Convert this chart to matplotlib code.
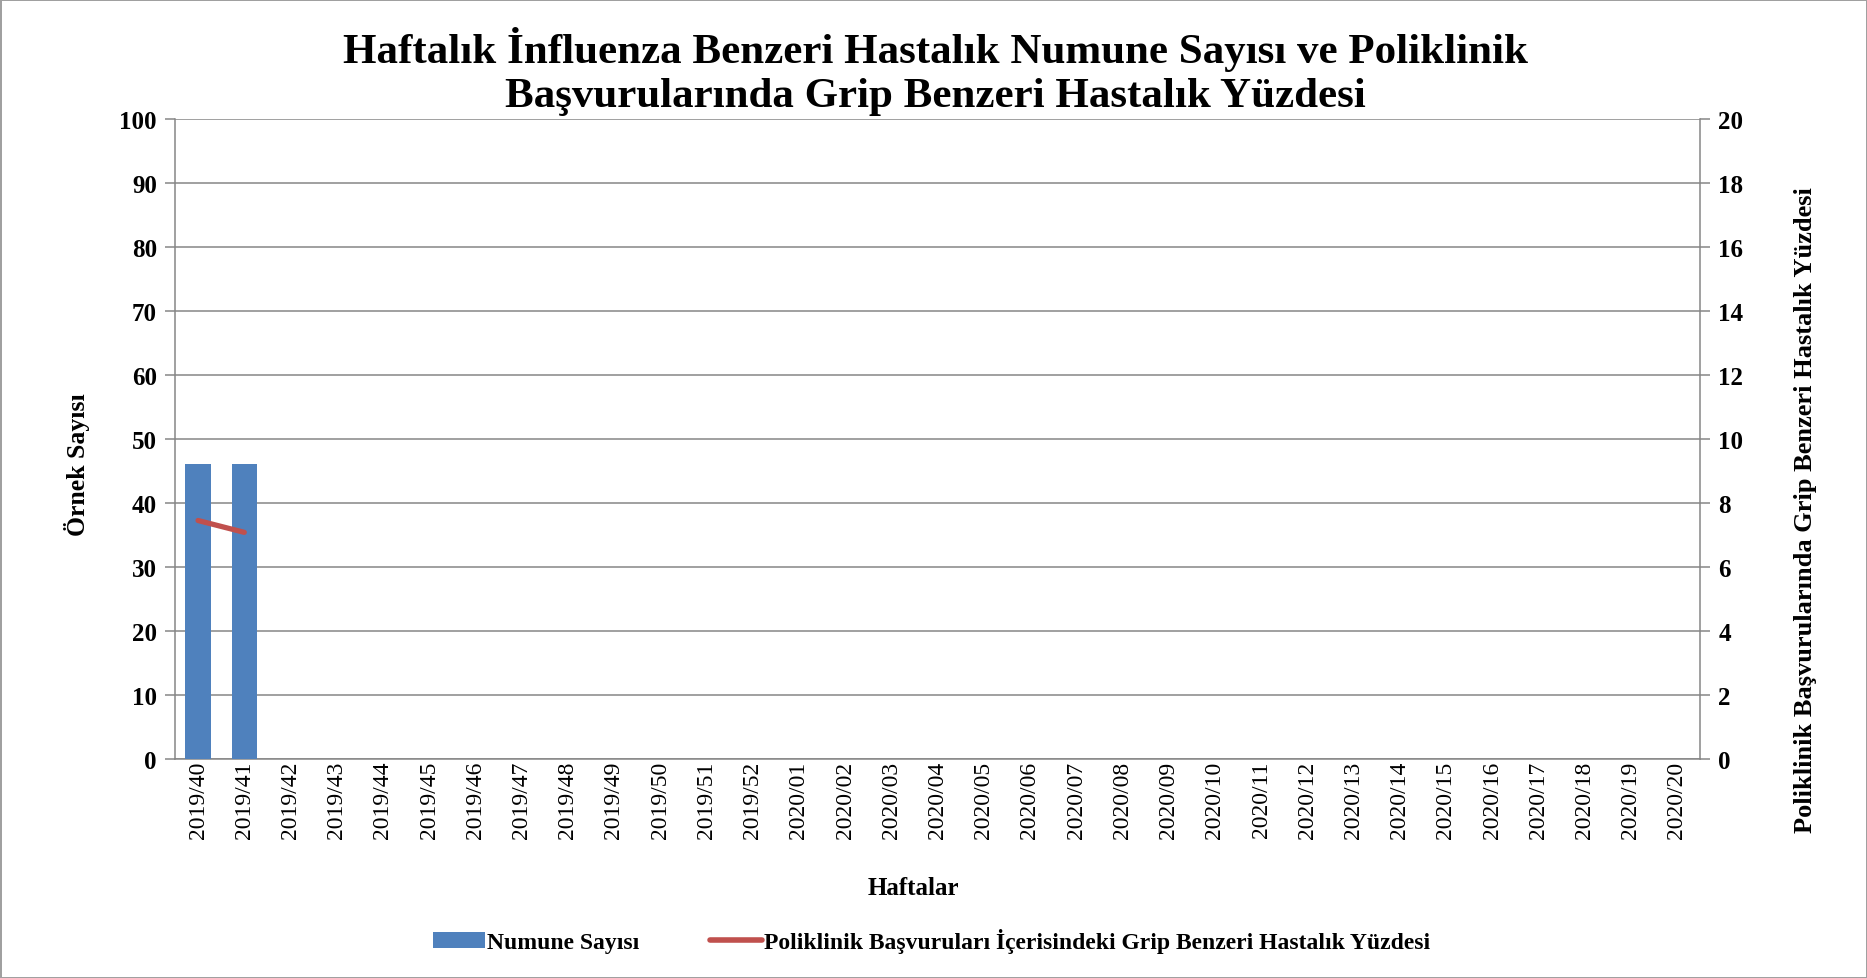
import numpy as np
import matplotlib
matplotlib.use('Agg')
import matplotlib.pyplot as plt
from matplotlib.patches import Patch
from matplotlib.lines import Line2D

plt.rcParams['font.family'] = ['Liberation Serif', 'DejaVu Serif']

# Data
weeks = ['2019/%02d' % w for w in range(40, 53)] + ['2020/%02d' % w for w in range(1, 21)]
sample_counts = [46, 46]          # Numune Sayısı (only first weeks reported)
ili_percent = [7.45, 7.08]        # Grip Benzeri Hastalık Yüzdesi

title = 'Haftalık İnfluenza Benzeri Hastalık Numune Sayısı ve Poliklinik\nBaşvurularında Grip Benzeri Hastalık Yüzdesi'
left_label = 'Örnek Sayısı'
right_label = 'Poliklinik Başvurularında Grip Benzeri Hastalık Yüzdesi'
x_label = 'Haftalar'
bar_name = 'Numune Sayısı'
line_name = 'Poliklinik Başvuruları İçerisindeki Grip Benzeri Hastalık Yüzdesi'

blue = '#4F81BD'
red = '#C0504D'
gray = '#868686'

fig = plt.figure(figsize=(18.67, 9.79), dpi=100)
fig.patch.set_edgecolor('#a0a0a0')
fig.patch.set_linewidth(2)

ax = fig.add_axes([0.0937, 0.2237, 0.8169, 0.6540])
x = np.arange(len(weeks))

ax.bar(x[:len(sample_counts)], sample_counts, width=0.55, color=blue, zorder=3)
ax.set_xlim(-0.5, len(weeks) - 0.5)
ax.set_ylim(0, 100)
ax.set_yticks(range(0, 101, 10))
ax.grid(axis='y', color=gray, linewidth=1.1, zorder=0)
ax.set_xticks(x)
ax.set_xticklabels(weeks, rotation=90, fontsize=17)
ax.tick_params(axis='x', length=0, pad=1)
ax.tick_params(axis='y', length=7, color=gray, width=1.1, labelsize=18, pad=6)
for lbl in ax.get_yticklabels():
    lbl.set_fontweight('bold')
for s in ['top', 'right']:
    ax.spines[s].set_visible(False)
for s in ['left', 'bottom']:
    ax.spines[s].set_color(gray)
    ax.spines[s].set_linewidth(1.1)

ax2 = ax.twinx()
ax2.plot(x[:len(ili_percent)], ili_percent, color=red, linewidth=3.8,
         solid_capstyle='round', zorder=4)
ax2.set_ylim(0, 20)
ax2.set_yticks(range(0, 21, 2))
ax2.tick_params(axis='y', length=7, color=gray, width=1.1, labelsize=18, pad=6)
for lbl in ax2.get_yticklabels():
    lbl.set_fontweight('bold')
for s in ['top', 'left', 'bottom']:
    ax2.spines[s].set_visible(False)
ax2.spines['right'].set_color(gray)
ax2.spines['right'].set_linewidth(1.1)

fig.text(0.501, 0.927, title, ha='center', va='center', fontsize=31,
         fontweight='bold', linespacing=1.2)
fig.text(0.041, 0.525, left_label, rotation=90, ha='center', va='center',
         fontsize=18.5, fontweight='bold')
fig.text(0.967, 0.479, right_label, rotation=90, ha='center', va='center',
         fontsize=19, fontweight='bold')
fig.text(0.489, 0.092, x_label, ha='center', va='center', fontsize=18,
         fontweight='bold')

handles = [Patch(facecolor=blue), Line2D([], [], color=red, linewidth=4, solid_capstyle='round')]
fig.legend(handles, [bar_name, line_name], loc='center', bbox_to_anchor=(0.499, 0.038),
           ncol=2, frameon=False, prop={'weight': 'bold', 'size': 17},
           handlelength=2.2, handletextpad=0.1, columnspacing=3.0)

fig.savefig('out.png', dpi=100, edgecolor=fig.get_edgecolor())
